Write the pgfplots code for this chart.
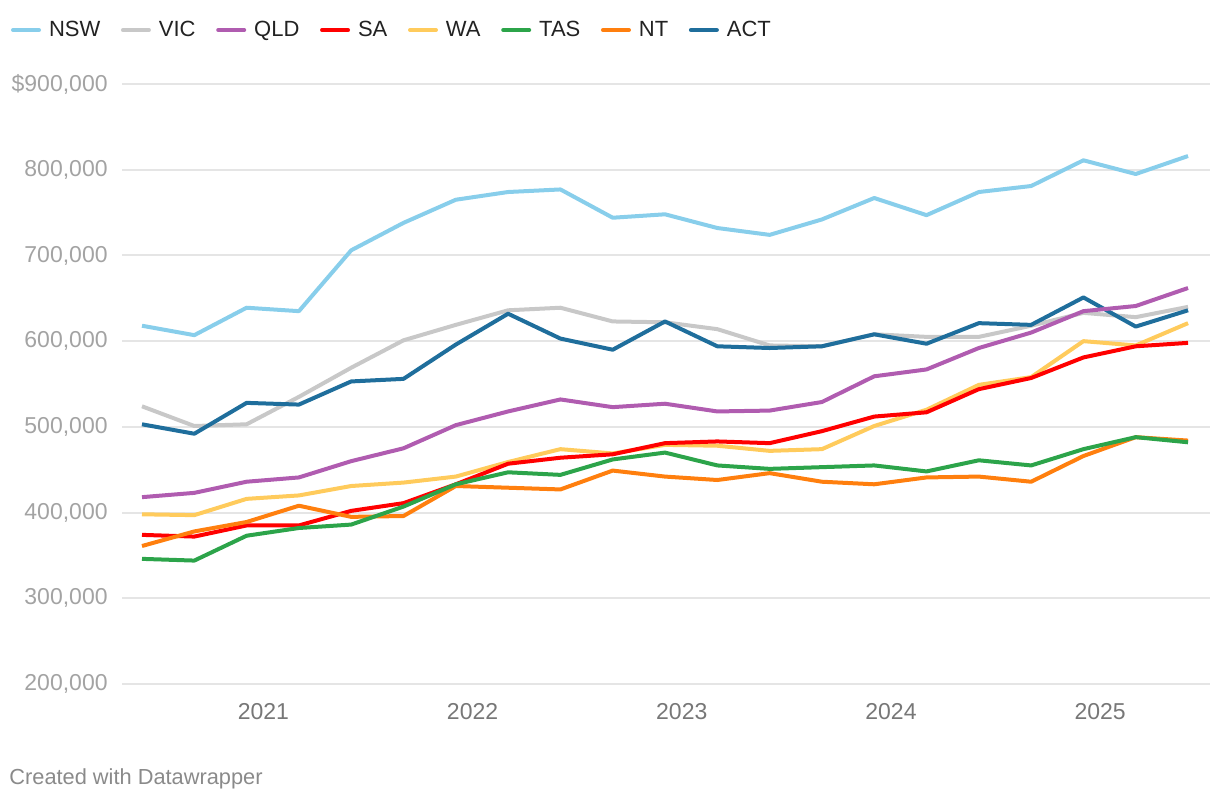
\documentclass[border=0pt]{standalone}
\usepackage{fontspec}
\setmainfont{Liberation Sans}
\usepackage{pgfplots}
\usepackage{pgfplotstable}
\pgfplotsset{compat=1.18}
\definecolor{cNSW}{HTML}{88CEEB}
\definecolor{cVIC}{HTML}{C8C8C8}
\definecolor{cQLD}{HTML}{B05CB0}
\definecolor{cSA}{HTML}{FF0000}
\definecolor{cWA}{HTML}{FFCB5C}
\definecolor{cTAS}{HTML}{2CA44A}
\definecolor{cNT}{HTML}{FF7F0E}
\definecolor{cACT}{HTML}{1F6E9C}
\definecolor{gridc}{HTML}{E5E5E5}
\definecolor{ylab}{HTML}{A3A3A3}
\definecolor{xlab}{HTML}{777777}
\definecolor{legtext}{HTML}{222222}
\definecolor{foot}{HTML}{8A8A8A}

\pgfplotstableread{
x       nsw    vic    qld    sa     wa     tas    nt     act
2020.42 618000 524000 418000 374000 398000 346000 361000 503000
2020.67 607000 501000 423000 372000 397000 344000 378000 492000
2020.92 639000 503000 436000 385000 416000 373000 389000 528000
2021.17 635000 535000 441000 385000 420000 382000 408000 526000
2021.42 706000 569000 460000 402000 431000 386000 395000 553000
2021.67 738000 601000 475000 411000 435000 407000 396000 556000
2021.92 765000 619000 502000 433000 442000 433000 431000 596000
2022.17 774000 636000 518000 457000 459000 447000 429000 632000
2022.42 777000 639000 532000 464000 474000 444000 427000 603000
2022.67 744000 623000 523000 468000 469000 462000 449000 590000
2022.92 748000 622000 527000 481000 479000 470000 442000 623000
2023.17 732000 614000 518000 483000 478000 455000 438000 594000
2023.42 724000 595000 519000 481000 472000 451000 446000 592000
2023.67 742000 594000 529000 495000 474000 453000 436000 594000
2023.92 767000 608000 559000 512000 501000 455000 433000 608000
2024.17 747000 605000 567000 517000 520000 448000 441000 597000
2024.42 774000 605000 592000 544000 549000 461000 442000 621000
2024.67 781000 618000 610000 557000 558000 455000 436000 619000
2024.92 811000 633000 635000 581000 600000 474000 466000 651000
2025.17 795000 628000 641000 594000 595000 488000 488000 617000
2025.42 816000 640000 662000 598000 621000 482000 484000 636000
}\data

\begin{document}
\begin{tikzpicture}[x=1pt,y=1pt]
\useasboundingbox (0,0) rectangle (610,400);
\begin{axis}[
  at={(61pt,58pt)}, anchor=south west,
  scale only axis, width=544pt, height=300pt,
  xmin=2020.3244, xmax=2025.525,
  ymin=200000, ymax=900000,
  clip=false,
  axis line style={draw=none},
  major tick length=0pt,
  tick style={draw=none},
  ymajorgrids, major grid style={color=gridc, line width=1pt},
  ytick={200000,300000,400000,500000,600000,700000,800000,900000},
  yticklabels={{200,000},{300,000},{400,000},{500,000},{600,000},{700,000},{800,000},{\$900,000}},
  scaled y ticks=false,
  xtick={2021,2022,2023,2024,2025},
  xticklabels={2021,2022,2023,2024,2025},
  yticklabel style={anchor=east, inner sep=0pt, xshift=-7pt, text=ylab, font=\fontsize{11.5}{13}\selectfont},
  xticklabel style={anchor=center, inner sep=0pt, yshift=-14pt, text=xlab, font=\fontsize{11.5}{13}\selectfont},
  legend columns=-1,
  legend cell align=left,
  legend image code/.code={\draw[line width=2pt, line cap=round, #1] (1pt,0pt) -- (14pt,0pt);},
  legend style={at={(-0.102,1.09)}, anchor=west, draw=none, fill=none,
    inner sep=0pt, outer sep=0pt, text=legtext,
    font=\fontsize{11}{13}\selectfont,
    nodes={inner sep=1pt},
    /tikz/every odd column/.append style={column sep=3pt},
    /tikz/every even column/.append style={column sep=9.3pt}},
  every axis plot/.append style={line width=2pt, line join=round, no markers},
]
\addlegendimage{cNSW}\addlegendentry{NSW}
\addlegendimage{cVIC}\addlegendentry{VIC}
\addlegendimage{cQLD}\addlegendentry{QLD}
\addlegendimage{cSA}\addlegendentry{SA}
\addlegendimage{cWA}\addlegendentry{WA}
\addlegendimage{cTAS}\addlegendentry{TAS}
\addlegendimage{cNT}\addlegendentry{NT}
\addlegendimage{cACT}\addlegendentry{ACT}

\addplot[cVIC, forget plot] table[x=x, y=vic] {\data};
\addplot[cACT, forget plot] table[x=x, y=act] {\data};
\addplot[cQLD, forget plot] table[x=x, y=qld] {\data};
\addplot[cWA, forget plot] table[x=x, y=wa] {\data};
\addplot[cSA, forget plot] table[x=x, y=sa] {\data};
\addplot[cNT, forget plot] table[x=x, y=nt] {\data};
\addplot[cTAS, forget plot] table[x=x, y=tas] {\data};
\addplot[cNSW, forget plot] table[x=x, y=nsw] {\data};
\end{axis}
\node[anchor=base west, inner sep=0pt, text=foot, font=\fontsize{10.9}{12}\selectfont] at (4.5,8) {Created with Datawrapper};
\end{tikzpicture}
\end{document}
